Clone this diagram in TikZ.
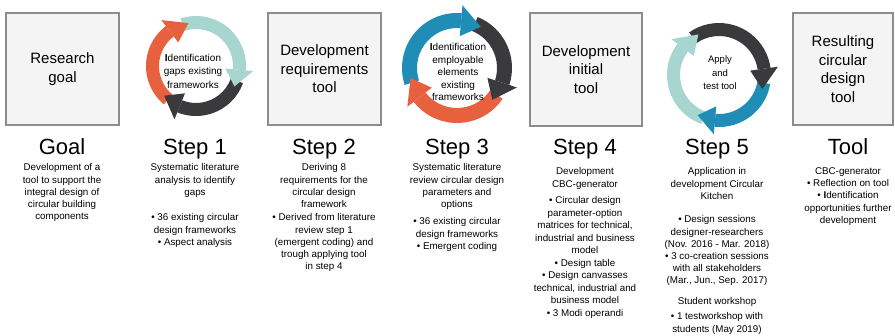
\documentclass[tikz,border=0pt]{standalone}
\usepackage{fontspec}
\setmainfont{Liberation Sans}
\usetikzlibrary{calc}
\definecolor{cred}{HTML}{E8613F}
\definecolor{cteal}{HTML}{A6D6CF}
\definecolor{cdark}{HTML}{3A3A3C}
\definecolor{cblue}{HTML}{1F8DB5}
\definecolor{boxfill}{HTML}{F4F4F4}
\definecolor{boxline}{HTML}{8C8C8C}
% body of a curved arrow: centre, tail angle, base angle, colour (uses \ri, \ro)
\newcommand\arrbody[4]{%
  \fill[#4] ($(#1)+(#2:\ro pt)$) arc[start angle=#2, end angle=#3, radius=\ro pt]
    -- ($(#1)+(#3:\ri pt)$) arc[start angle=#3, end angle=#2, radius=\ri pt] -- cycle;}
% head of a curved arrow: centre, base angle, tip angle, colour (uses \ri, \ro, \hw)
\newcommand\arrhead[4]{%
  \pgfmathsetmacro\rmid{(\ri+\ro)/2}%
  \pgfmathsetmacro\rhin{\ri-\hw}%
  \pgfmathsetmacro\rhout{\ro+\hw}%
  \fill[#4] ($(#1)+(#2:\rhout pt)$) -- ($(#1)+(#3:\rmid pt)$) -- ($(#1)+(#2:\rhin pt)$) -- cycle;}
\tikzset{
  gbox/.style={draw=boxline, fill=boxfill, line width=1.1pt, align=center,
    font=\fontsize{15}{18.5}\selectfont, inner sep=0pt},
  title/.style={font=\fontsize{22}{24}\selectfont, anchor=base, inner sep=0pt},
  body/.style={font=\fontsize{9.8}{12.2}\selectfont, align=center, anchor=north, inner sep=0pt},
  cyctext/.style={font=\fontsize{10}{13.5}\selectfont, align=center, inner sep=0pt},
}
\begin{document}
\begin{tikzpicture}[x=1pt,y=1pt]
\useasboundingbox (0,0) rectangle (895,-335);
\fill[white] (0,0) rectangle (895,-335);
% boxes
\node[gbox, minimum width=113pt, minimum height=112pt] (b1) at (62.5,-69) {Research\\goal};
\node[gbox, minimum width=113pt, minimum height=112pt] (b2) at (324.5,-69) {Development\\requirements\\tool};
\node[gbox, minimum width=112pt, minimum height=113pt] (b3) at (586,-69.5) {Development\\initial\\tool};
\node[gbox, minimum width=100pt, minimum height=112pt] (b4) at (843,-69) {Resulting\\circular\\design\\tool};
% cycle 1
\coordinate (c1) at (196,-66);
\def\ri{37}\def\ro{50}\def\hw{7.5}
\arrbody{c1}{230}{127}{cred}
\arrbody{c1}{108}{-5}{cteal}
\arrbody{c1}{-20}{-112}{cdark}
\arrhead{c1}{127}{100}{cred}
\arrhead{c1}{-5}{-28}{cteal}
\arrhead{c1}{-112}{-137}{cdark}
\node[cyctext] (t1) at (193,-71) {{\bfseries I}dentification\\gaps existing\\frameworks};
% cycle 2
\coordinate (c2) at (457,-68);
\def\ri{40}\def\ro{55}\def\hw{8}
\arrbody{c2}{198}{85}{cblue}
\arrbody{c2}{68}{-18}{cdark}
\arrbody{c2}{-34}{-142}{cred}
\arrhead{c2}{85}{60}{cblue}
\arrhead{c2}{-18}{-42}{cdark}
\arrhead{c2}{-142}{-168}{cred}
\node[cyctext, font=\fontsize{10}{12.5}\selectfont] (t2) at (458,-72) {{\bfseries I}dentification\\employable\\elements\\existing\\frameworks};
% cycle 3
\coordinate (c3) at (719,-75);
\def\ri{39}\def\ro{52}\def\hw{7.5}
\arrbody{c3}{125}{8}{cdark}
\arrbody{c3}{-10}{-95}{cblue}
\arrbody{c3}{250}{143}{cteal}
\arrhead{c3}{8}{-18}{cdark}
\arrhead{c3}{-95}{-118}{cblue}
\arrhead{c3}{143}{117}{cteal}
\node[cyctext, font=\fontsize{9.5}{13.5}\selectfont] (t3) at (720,-73) {Apply\\and\\test tool};
% titles
\node[title] (h0) at (62,-154) {Goal};
\node[title] (h1) at (195,-154) {Step 1};
\node[title] (h2) at (324,-154) {Step 2};
\node[title] (h3) at (457,-154) {Step 3};
\node[title] (h4) at (585,-154) {Step 4};
\node[title] (h5) at (717,-154) {Step 5};
\node[title] (h6) at (848,-154) {Tool};
% goal
\node[body] (g1) at (62,-163.5) {Development of a\\tool to support the\\integral design of\\circular building\\components};
% step 1
\node[body] (s1a) at (195,-163.5) {Systematic literature\\analysis to identify\\gaps};
\node[body] (s1b) at (195,-213.5) {• 36 existing circular\\design frameworks\\• Aspect analysis};
% step 2
\node[body] (s2a) at (324,-163.5) {Deriving 8\\requirements for the\\circular design\\framework};
\node[body] (s2b) at (324,-213.5) {• Derived from literature\\review step 1\\(emergent coding) and\\trough applying tool\\in step 4};
% step 3
\node[body] (s3a) at (457,-163.5) {Systematic literature\\review circular design\\parameters and\\options};
\node[body] (s3b) at (457,-217.5) {• 36 existing circular\\design frameworks\\• Emergent coding};
% step 4
\node[body] (s4a) at (585,-167.5) {Development\\CBC-generator};
\node[body, font=\fontsize{9.8}{12.5}\selectfont] (s4b) at (585,-196.5) {• Circular design\\parameter-option\\matrices for technical,\\industrial and business\\model\\• Design table\\• Design canvasses\\technical, industrial and\\business model\\• 3 Modi operandi};
% step 5
\node[body] (s5a) at (717,-167.5) {Application in\\development Circular\\Kitchen};
\node[body] (s5b) at (717,-215.5) {• Design sessions\\designer-researchers\\(Nov. 2016 - Mar. 2018)\\• 3 co-creation sessions\\with all stakeholders\\(Mar., Jun., Sep. 2017)};
\node[body] (s5c) at (717,-297.5) {Student workshop};
\node[body] (s5d) at (717,-312.5) {• 1 testworkshop with\\students (May 2019)};
% tool
\node[body] (t6) at (848,-167.5) {CBC-generator\\• Reflection on tool\\• {\bfseries I}dentification\\opportunities further\\development};
\end{tikzpicture}
\end{document}
